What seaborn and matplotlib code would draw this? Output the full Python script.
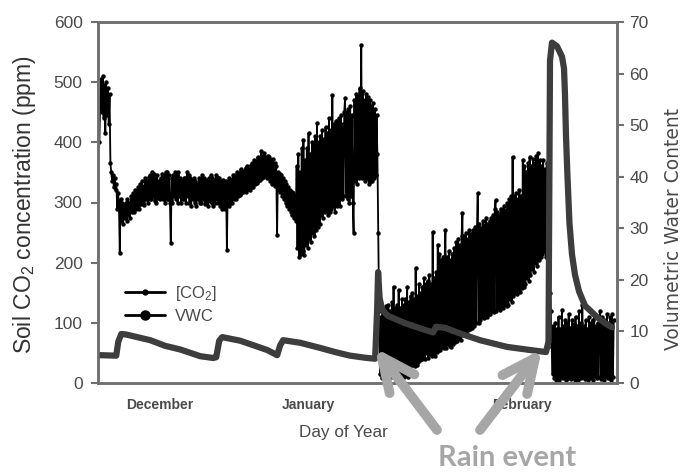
import numpy as np
import pandas as pd
import matplotlib
matplotlib.use("Agg")
import matplotlib.pyplot as plt
from matplotlib.lines import Line2D
import seaborn as sns

# Soil CO2 logged every 3 h, starting 16 days before 1 January (day 0)
co2_start_day = -16.0
co2_step_day = 0.125
co2_ppm = [
    400, 470, 505, 450, 510, 440, 495, 415, 500, 445, 490, 430, 480, 365, 350, 335, 345, 325, 340, 320,
    330, 290, 315, 300, 216, 305, 270, 300, 265, 295, 275, 300, 270, 305, 280, 300, 275, 310, 285, 305,
    315, 285, 320, 290, 318, 295, 325, 290, 330, 298, 335, 300, 328, 296, 340, 305, 335, 300, 342, 305,
    345, 305, 350, 310, 348, 302, 340, 300, 345, 308, 335, 305, 340, 310, 348, 305, 345, 300, 350, 305,
    350, 305, 345, 300, 233, 340, 300, 345, 310, 350, 305, 345, 300, 350, 310, 340, 300, 335, 305, 340,
    305, 340, 300, 350, 310, 345, 300, 340, 295, 335, 305, 340, 300, 335, 295, 330, 305, 340, 300, 335,
    300, 345, 305, 340, 298, 338, 300, 335, 295, 340, 302, 345, 300, 340, 295, 338, 300, 345, 305, 340,
    300, 340, 295, 335, 290, 338, 295, 330, 290, 335, 221, 330, 295, 340, 300, 338, 300, 345, 305, 340,
    345, 305, 350, 310, 348, 312, 355, 315, 350, 318, 352, 320, 358, 318, 360, 322, 355, 320, 362, 325,
    365, 325, 370, 330, 368, 332, 375, 335, 372, 338, 385, 340, 378, 342, 382, 345, 375, 340, 378, 345,
    375, 335, 370, 330, 372, 335, 365, 328, 360, 246, 350, 320, 348, 318, 345, 310, 340, 305, 335, 300,
    330, 295, 325, 290, 320, 285, 318, 280, 315, 275, 310, 270, 360, 225, 380, 210, 350, 215, 390, 220,
    404, 212, 370, 230, 390, 225, 415, 240, 380, 235, 400, 250, 395, 245, 410, 255, 432, 260, 400, 265,
    410, 280, 420, 275, 405, 285, 425, 290, 415, 280, 440, 285, 420, 290, 479, 295, 430, 285, 435, 295,
    435, 300, 440, 295, 445, 305, 430, 310, 450, 474, 310, 450, 305, 455, 300, 460, 310, 445, 300, 250,
    470, 335, 480, 330, 475, 340, 490, 345, 562, 340, 485, 345, 470, 335, 480, 340, 475, 330, 470, 335,
    460, 335, 465, 340, 455, 345, 445, 380, 250, 120, 15, 110, 8, 125, 12, 118, 5, 128, 15, 120,
    130, 8, 120, 15, 135, 10, 160, 12, 125, 5, 130, 20, 155, 10, 125, 15, 140, 8, 130, 12,
    140, 18, 160, 10, 135, 25, 145, 15, 150, 30, 140, 28, 191, 30, 145, 35, 165, 38, 150, 40,
    160, 45, 175, 40, 165, 50, 170, 42, 180, 48, 165, 45, 251, 50, 175, 45, 185, 52, 230, 55,
    215, 55, 205, 60, 210, 58, 200, 254, 58, 210, 65, 220, 62, 205, 60, 215, 65, 225, 68, 210,
    235, 70, 240, 75, 230, 72, 245, 282, 80, 245, 85, 250, 82, 240, 88, 255, 90, 248, 92, 250,
    255, 95, 260, 100, 250, 316, 100, 265, 105, 258, 110, 270, 108, 262, 112, 275, 110, 265, 115, 270,
    115, 275, 120, 280, 118, 290, 304, 120, 285, 125, 280, 122, 290, 128, 285, 125, 295, 130, 288, 128,
    300, 130, 305, 140, 310, 135, 376, 145, 310, 150, 315, 148, 305, 155, 320, 152, 310, 158, 370, 160,
    360, 165, 350, 175, 365, 170, 375, 180, 360, 190, 372, 185, 365, 200, 378, 195, 382, 205, 370, 210,
    360, 215, 370, 220, 355, 210, 365, 300, 240, 190, 150, 120, 60, 15, 95, 8, 100, 5, 90, 10,
    110, 5, 90, 10, 121, 8, 95, 12, 105, 5, 100, 8, 115, 10, 92, 6, 105, 12, 98, 5,
    110, 10, 95, 5, 120, 12, 100, 8, 130, 10, 95, 6, 105, 12, 90, 5, 110, 8, 100, 10,
    105, 5, 115, 12, 95, 8, 100, 10, 92, 120, 6, 110, 10, 105, 5, 95, 12, 115, 8, 100,
    8, 110, 5, 115, 10, 105,
]

# Volumetric water content (%)
vwc_day = [
    -16.02, -13.52, -13.22, -12.78, -12.05, -8.52, -6.32, -4.11, -1.18, 0.73,
    1.18, 1.62, 2.06, 4.70, 6.91, 8.67, 10.14, 10.58, 11.02, 13.52,
    16.46, 18.66, 20.86, 23.07, 24.54, 24.83, 24.98, 25.20, 25.57, 26.45,
    28.95, 31.15, 33.06, 33.50, 34.82, 37.03, 39.97, 43.93, 47.31, 49.66,
    50.03, 50.25, 50.54, 51.28, 52.01, 52.31, 52.45, 52.60, 52.82, 53.11,
    53.48, 53.92, 54.51, 55.39, 57.15, 58.33, 59.36,
]
vwc_pct = [
    5.4, 5.3, 8.0, 9.5, 9.4, 8.3, 7.2, 6.5, 5.2, 4.85,
    5.0, 8.2, 8.9, 8.2, 7.2, 6.4, 5.4, 7.3, 8.3, 7.8,
    6.8, 6.0, 5.3, 4.9, 4.7, 14.0, 21.5, 16.5, 14.2, 13.0,
    11.6, 10.6, 9.8, 10.9, 10.7, 9.6, 8.3, 7.0, 6.4, 6.0,
    8.0, 62.5, 66.0, 65.3, 63.3, 61.0, 56.0, 48.0, 40.0, 31.0,
    25.0, 21.0, 17.8, 15.0, 12.8, 11.6, 10.8,
]

month_names = ["December", "January", "February"]
month_centers = [-7.05, 14.7, 46.1]
month_bounds = [0, 31]

co2_day = co2_start_day + co2_step_day * np.arange(len(co2_ppm))
df_co2 = pd.DataFrame({"day": co2_day, "co2": co2_ppm})
df_vwc = pd.DataFrame({"day": vwc_day, "vwc": vwc_pct})

sns.set_style("white")
plt.rcParams["font.family"] = ["Liberation Sans", "DejaVu Sans"]
plt.rcParams["mathtext.default"] = "regular"

frame_gray = "#6f6f6f"
text_gray = "#4a4a4a"
arrow_gray = "#a6a6a6"

fig = plt.figure(figsize=(6.83, 4.72), dpi=100)
ax = fig.add_axes([98 / 683, 1 - 383 / 472, 519 / 683, 361 / 472])

sns.lineplot(data=df_co2, x="day", y="co2", ax=ax, color="black",
             linewidth=1.3, marker="o", markersize=3.2, markeredgewidth=0,
             estimator=None, sort=False, legend=False)

ax2 = ax.twinx()
sns.lineplot(data=df_vwc, x="day", y="vwc", ax=ax2, color="#3d3d3d",
             linewidth=4.5, estimator=None, sort=False, legend=False,
             solid_capstyle="round", solid_joinstyle="round")

ax.set_xlim(-16.2, 60.1)
ax.set_ylim(0, 600)
ax2.set_ylim(0, 70)

ax.set_yticks(range(0, 601, 100))
ax2.set_yticks(range(0, 71, 10))
ax.set_xticks(month_bounds)
ax.set_xticklabels(["", ""])
ax.set_xticks(month_centers, minor=True)
ax.set_xticklabels(month_names, minor=True, fontweight="bold")

ax.tick_params(axis="y", direction="out", length=5, width=1.5, color=frame_gray,
               labelcolor=text_gray, labelsize=12.5, pad=6)
ax2.tick_params(axis="y", direction="out", length=5, width=1.5, color=frame_gray,
                labelcolor=text_gray, labelsize=12.5, pad=4)
ax.tick_params(axis="x", which="major", direction="out", length=4, width=1.5,
               color=frame_gray)
ax.tick_params(axis="x", which="minor", length=0, pad=11, labelsize=10,
               labelcolor=text_gray)

for a in (ax, ax2):
    for sp in a.spines.values():
        sp.set_visible(True)
        sp.set_color(frame_gray)
        sp.set_linewidth(1.8)

ax.set_xlabel("Day of Year", fontsize=12.3, color=text_gray, va="center")
ax.xaxis.set_label_coords(0.472, -0.136)
ax.set_ylabel("Soil CO$_2$ concentration (ppm)", fontsize=16.5, color="#333333",
              va="center")
ax.yaxis.set_label_coords(-0.141, 0.493)
ax2.set_ylabel("Volumetric Water Content", fontsize=13.5, color=text_gray,
               va="center", family="DejaVu Sans")
ax2.yaxis.set_label_coords(1.108, 0.427)

handles = [
    Line2D([], [], color="black", lw=2, marker="o", markersize=3.5),
    Line2D([], [], color="black", lw=2, marker="o", markersize=6.5),
]
ax2.legend(handles, ["[CO$_2$]", "VWC"], loc="upper left",
           bbox_to_anchor=(0.052, 0.275), borderaxespad=0, borderpad=0,
           frameon=False, fontsize=12, handlelength=2.4, handletextpad=0.6,
           labelspacing=0.35, labelcolor=text_gray)

# Rain event call-outs
for tail, head in [((437, 42), (375, 124)), ((480, 42), (542, 123))]:
    ax2.annotate("", xy=head, xytext=tail, xycoords="figure pixels",
                 textcoords="figure pixels", annotation_clip=False,
                 arrowprops=dict(arrowstyle="->, head_length=1.2, head_width=0.56",
                                 mutation_scale=20, lw=7, color=arrow_gray,
                                 shrinkA=0, shrinkB=0),
                 zorder=10)
fig.text(507 / 683, 14 / 472, "Rain event", ha="center", va="center",
         fontsize=21, fontweight="bold", color=arrow_gray, family="Lato")

fig.savefig("out.png", dpi=100)
